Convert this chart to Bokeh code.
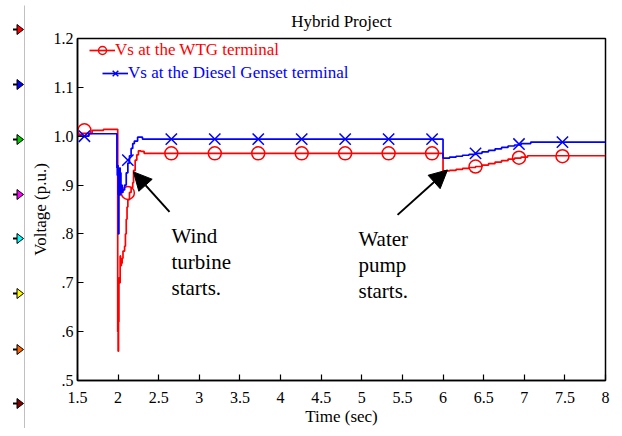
from bokeh.plotting import figure
from bokeh.layouts import row
from bokeh.models import (Range1d, FixedTicker, Label, Arrow, NormalHead, Legend, LegendItem)
from bokeh.embed import file_html
from bokeh.resources import INLINE

FONT = "Liberation Serif"

# ---- data ----
t_wtg = [1.5, 1.55, 1.68, 1.82, 1.995, 2.0, 2.005, 2.01, 2.02, 2.025,
         2.03, 2.04, 2.05, 2.06, 2.08, 2.09, 2.1, 2.11, 2.12, 2.14,
         2.16, 2.18, 2.19, 2.21, 2.23, 2.25, 2.28, 2.32, 6.0, 6.005,
         6.08, 6.16, 6.24, 6.32, 6.4, 6.48, 6.56, 6.64, 6.72, 6.8,
         6.88, 6.96, 7.04, 8.0]
v_wtg = [1.003, 1.006, 1.012, 1.014, 0.60, 0.56, 0.62, 0.71, 0.70, 0.755,
         0.735, 0.74, 0.75, 0.765, 0.775, 0.80, 0.83, 0.855, 0.87, 0.885,
         0.895, 0.905, 0.93, 0.951, 0.962, 0.97, 0.969, 0.965, 0.928, 0.929,
         0.930, 0.932, 0.934, 0.936, 0.938, 0.941, 0.944, 0.947, 0.950, 0.953,
         0.955, 0.957, 0.960, 0.960]

t_dg = [1.5, 1.64, 1.985, 1.99, 1.995, 2.0, 2.005, 2.01, 2.015, 2.02,
        2.025, 2.03, 2.035, 2.04, 2.05, 2.06, 2.08, 2.1, 2.12, 2.14,
        2.16, 2.18, 2.2, 2.24, 2.3, 6.0, 6.005, 6.08, 6.16, 6.24,
        6.32, 6.4, 6.48, 6.56, 6.64, 6.72, 6.8, 6.88, 6.96, 7.08,
        8.0]
v_dg = [1.0, 1.005, 0.935, 0.92, 0.94, 0.88, 0.80, 0.93, 0.89, 0.935,
        0.88, 0.925, 0.885, 0.90, 0.885, 0.89, 0.90, 0.925, 0.945, 0.96,
        0.975, 0.985, 0.99, 0.998, 0.994, 0.955, 0.955, 0.957, 0.959, 0.961,
        0.963, 0.965, 0.968, 0.971, 0.974, 0.977, 0.980, 0.982, 0.985, 0.988,
        0.988]

t_mark = [1.585, 2.12, 2.655, 3.19, 3.725, 4.26, 4.795, 5.33, 5.865, 6.40, 6.935, 7.47]
v_wtg_mark = [1.012, 0.884, 0.965, 0.965, 0.965, 0.965, 0.965, 0.965, 0.965, 0.938, 0.956, 0.959]
v_dg_mark = [1.0, 0.951, 0.994, 0.994, 0.994, 0.994, 0.994, 0.994, 0.994, 0.965, 0.984, 0.988]

x_ticks = [1.5, 2, 2.5, 3, 3.5, 4, 4.5, 5, 5.5, 6, 6.5, 7, 7.5, 8]
x_tick_labels = ["1.5", "2", "2.5", "3", "3.5", "4", "4.5", "5", "5.5", "6", "6.5", "7", "7.5", "8"]
y_ticks = [0.5, 0.6, 0.7, 0.8, 0.9, 1.0, 1.1, 1.2]
y_tick_labels = [".5", ".6", ".7", ".8", ".9", "1.0", "1.1", "1.2"]

series_names = ["Vs at the WTG terminal", "Vs at the Diesel Genset terminal"]
series_colors = ["#ff0000", "#0000ff"]

notes = [["Wind", "turbine", "starts."], ["Water", "pump", "starts."]]

# decorative side strip of the original screenshot (coloured port markers)
tri_colors = ["#ff0000", "#0000ff", "#00cc00", "#ff00ff", "#00ffff", "#ffff00", "#ff6600", "#800000"]
tri_rows = [29, 84, 139, 194, 238, 293, 349, 403]

H = 428
SW = 25
d = figure(width=SW, height=H, output_backend="svg", toolbar_location=None,
           x_range=Range1d(0, SW), y_range=Range1d(H, 0),
           x_axis_type=None, y_axis_type=None,
           min_border=0, min_border_left=0, min_border_right=0,
           min_border_top=0, min_border_bottom=0)
d.frame_align = False
d.grid.visible = False
d.outline_line_color = None
d.background_fill_color = "white"
d.border_fill_color = "white"
d.segment(x0=[12.5] * 8, y0=tri_rows, x1=[17] * 8, y1=tri_rows, line_color="black", line_width=2)
d.patches(xs=[[16.5, 16.5, 23] for _ in tri_rows],
          ys=[[yc - 5, yc + 5, yc] for yc in tri_rows],
          fill_color=tri_colors, line_color="black", line_width=1)
d.segment(x0=[24.5], y0=[5], x1=[24.5], y1=[H], line_color="#808080", line_width=1)

p = figure(width=587, height=H, output_backend="svg", toolbar_location=None,
           x_range=Range1d(1.5, 8), y_range=Range1d(0.5, 1.2),
           min_border_left=52, min_border_right=7, min_border_top=38, min_border_bottom=47,
           title="Hybrid Project", x_axis_label="Time (sec)", y_axis_label="Voltage (p.u.)")
p.frame_align = False

p.title.align = "center"
p.title.text_font = FONT
p.title.text_font_size = "17px"
p.title.text_font_style = "normal"
p.title.text_color = "black"
p.title.standoff = 15

p.grid.visible = False
p.outline_line_color = "black"
p.outline_line_width = 1.5
p.background_fill_color = "white"
p.border_fill_color = "white"

for ax in (p.xaxis[0], p.yaxis[0]):
    ax.axis_line_color = "black"
    ax.axis_line_width = 1.5
    ax.major_tick_in = 6
    ax.major_tick_out = 0
    ax.major_tick_line_color = "black"
    ax.major_tick_line_width = 1.2
    ax.minor_tick_line_color = None
    ax.major_label_text_font = FONT
    ax.major_label_text_font_size = "16px"
    ax.major_label_text_color = "black"
    ax.axis_label_text_font = FONT
    ax.axis_label_text_font_size = "17px"
    ax.axis_label_text_font_style = "normal"
    ax.axis_label_text_color = "black"

p.xaxis.ticker = FixedTicker(ticks=x_ticks)
p.xaxis.major_label_overrides = {t: s for t, s in zip(x_ticks, x_tick_labels)}
p.xaxis.major_label_standoff = 11
p.xaxis.axis_label_standoff = 1
p.yaxis.ticker = FixedTicker(ticks=y_ticks)
p.yaxis.major_label_overrides = {t: s for t, s in zip(y_ticks, y_tick_labels)}
p.yaxis.major_label_standoff = 4
p.yaxis.axis_label_standoff = 1

# series
l1 = p.step(t_wtg, v_wtg, mode="after", line_color=series_colors[0], line_width=1.7)
m1 = p.scatter(t_mark, v_wtg_mark, marker="circle", size=13, fill_color=None,
               line_color=series_colors[0], line_width=1.5)
l2 = p.step(t_dg, v_dg, mode="after", line_color=series_colors[1], line_width=1.7)
m2 = p.scatter(t_mark, v_dg_mark, marker="x", size=16,
               line_color=series_colors[1], line_width=1.5)

for (rl, rm), name, col, loc in zip([(l1, m1), (l2, m2)], series_names, series_colors,
                                   [(12, 320), (25, 297)]):
    leg = Legend(items=[LegendItem(label=name, renderers=[rl, rm])], location=loc,
                 label_text_color=col, label_text_font=FONT, label_text_font_size="17px",
                 glyph_width=26, glyph_height=20, label_height=20, label_standoff=0,
                 padding=0, margin=0, spacing=0, border_line_color=None,
                 background_fill_alpha=0)
    p.add_layout(leg)

# annotations
head_kw = dict(size=18, fill_color="black", line_color="black")
p.add_layout(Arrow(end=NormalHead(**head_kw), x_start=2.633, y_start=0.845,
                   x_end=2.189, y_end=0.927, line_width=2, line_color="black"))
p.add_layout(Arrow(end=NormalHead(**head_kw), x_start=5.44, y_start=0.839,
                   x_end=6.055, y_end=0.931, line_width=2, line_color="black"))

for lines, x0, ys in [(notes[0], 2.657, [0.796, 0.743, 0.690]),
                      (notes[1], 4.959, [0.790, 0.737, 0.684])]:
    for txt, yy in zip(lines, ys):
        p.add_layout(Label(x=x0, y=yy, text=txt, text_font=FONT, text_font_size="21px",
                           text_color="black", text_align="left", text_baseline="alphabetic"))

layout = row(d, p, spacing=0)
open("out.html", "w").write(file_html(layout, INLINE))
